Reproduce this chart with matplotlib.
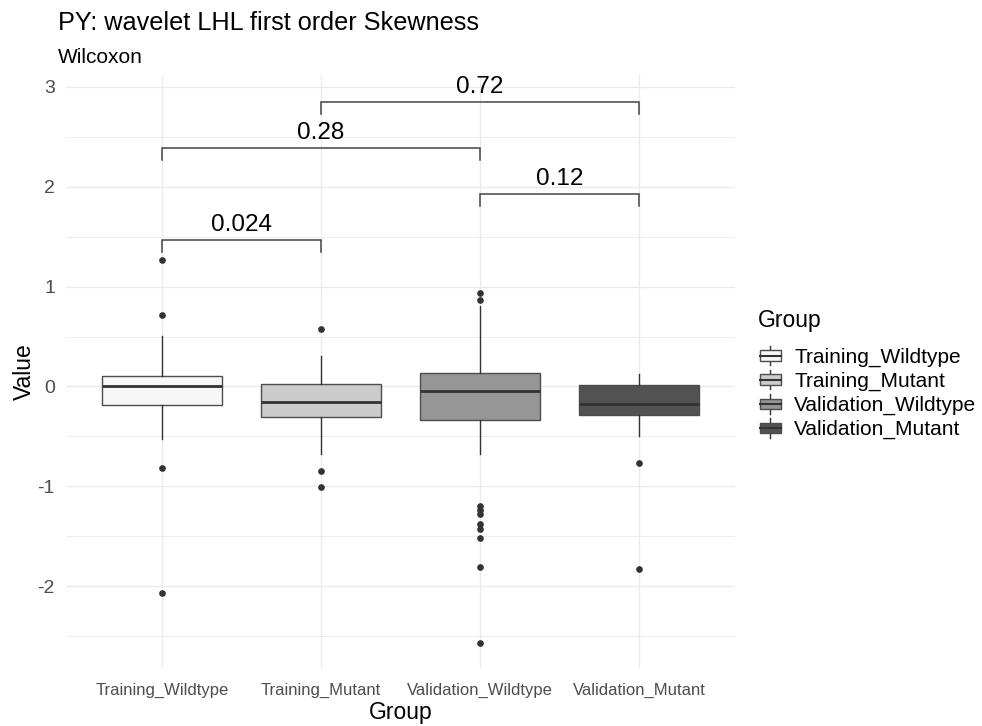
import matplotlib
matplotlib.use("Agg")
import matplotlib.pyplot as plt
from matplotlib.patches import Rectangle, Patch
from matplotlib.lines import Line2D
from matplotlib.legend_handler import HandlerBase
from matplotlib.ticker import MultipleLocator

plt.rcParams['font.family'] = ['Liberation Sans', 'DejaVu Sans']

# groups and their box summaries
groups = ['Training_Wildtype', 'Training_Mutant', 'Validation_Wildtype', 'Validation_Mutant']
fills = ['#f7f7f7', '#cccccc', '#969696', '#525252']
q1 = [-0.19, -0.31, -0.34, -0.29]
med = [0.00, -0.153, -0.05, -0.176]
q3 = [0.107, 0.024, 0.137, 0.01]
whislo = [-0.527, -0.677, -0.675, -0.494]
whishi = [0.507, 0.31, 0.81, 0.127]
outliers = [
    [1.27, 0.715, -0.82, -2.07],
    [0.571, -0.845, -1.005],
    [0.94, 0.866, -1.20, -1.235, -1.28, -1.375, -1.43, -1.52, -1.81, -2.565],
    [-0.77, -1.83],
]

# pairwise Wilcoxon comparisons: (group a, group b, bracket height, p label)
pairs = [(1, 2, 1.463, '0.024'),
         (1, 3, 2.385, '0.28'),
         (3, 4, 1.924, '0.12'),
         (2, 4, 2.846, '0.72')]

stats = []
for i in range(len(groups)):
    stats.append(dict(med=med[i], q1=q1[i], q3=q3[i], whislo=whislo[i],
                      whishi=whishi[i], fliers=outliers[i]))

fig = plt.figure(figsize=(9.82, 7.26), dpi=100)
ax = fig.add_axes([66/982, 1 - 668/726, (735 - 66)/982, (668 - 75)/726])

pos = [1, 2, 3, 4]
bp = ax.bxp(stats, positions=pos, widths=0.75, patch_artist=True, showcaps=False,
            boxprops=dict(edgecolor='#4d4d4d', linewidth=1.0),
            medianprops=dict(color='#333333', linewidth=2.0),
            whiskerprops=dict(color='#333333', linewidth=1.0),
            flierprops=dict(marker='o', markersize=3.8, markerfacecolor='#333333',
                            markeredgecolor='#333333'))
for patch, c in zip(bp['boxes'], fills):
    patch.set_facecolor(c)
    patch.set_zorder(3)
for ln in bp['medians'] + bp['whiskers'] + bp['fliers']:
    ln.set_zorder(4)

# significance brackets
tick = 0.115
for a, b, h, lab in pairs:
    ax.plot([a, a, b, b], [h - tick, h, h, h - tick], color='#444444', lw=1.1,
            solid_joinstyle='miter', zorder=5)
    ax.text((a + b) / 2, h + 0.04, lab, ha='center', va='bottom', fontsize=17.5,
            color='black', zorder=6)

ax.set_xlim(0.396, 4.604)
ax.set_ylim(-2.82, 3.12)
ax.set_xticks(pos)
ax.set_xticklabels(groups, fontsize=12, color='#4d4d4d')
ax.yaxis.set_major_locator(MultipleLocator(1))
ax.yaxis.set_minor_locator(MultipleLocator(0.5))
ax.set_yticks([-2, -1, 0, 1, 2, 3])
ax.set_yticklabels(['-2', '-1', '0', '1', '2', '3'], fontsize=14, color='#4d4d4d')
ax.tick_params(axis='both', which='both', length=0)
ax.tick_params(axis='x', pad=11)
ax.tick_params(axis='y', pad=8)
ax.grid(True, which='major', color='#ebebeb', lw=1.0, zorder=0)
ax.grid(True, which='minor', axis='y', color='#ebebeb', lw=0.6, zorder=0)
ax.set_axisbelow(True)
for s in ax.spines.values():
    s.set_visible(False)

ax.set_xlabel('Group', fontsize=16.5, labelpad=2)
ax.set_ylabel('Value', fontsize=16.5, labelpad=1)

fig.text(58/982, 1 - 30/726, 'PY: wavelet LHL first order Skewness', fontsize=18.2,
         ha='left', va='baseline')
fig.text(58/982, 1 - 63/726, 'Wilcoxon', fontsize=15, ha='left', va='baseline')


class BoxKey(HandlerBase):
    # little boxplot glyph for the legend keys
    def create_artists(self, legend, orig, xd, yd, width, height, fontsize, trans):
        cx = width / 2 - xd
        cy = height / 2 - yd
        bh = height * 0.55
        box = Rectangle((-xd, cy - bh / 2), width, bh, facecolor=orig.get_facecolor(),
                        edgecolor='#4d4d4d', lw=1.0, transform=trans)
        wu = Line2D([cx, cx], [cy + bh / 2, -yd + height], color='#333333', lw=1.0,
                    transform=trans)
        wd = Line2D([cx, cx], [-yd, cy - bh / 2], color='#333333', lw=1.0,
                    transform=trans)
        md = Line2D([-xd, -xd + width], [cy, cy], color='#333333', lw=1.5,
                    transform=trans)
        return [wu, wd, box, md]


fig.text(758/982, 1 - 327/726, 'Group', fontsize=16.5, ha='left', va='baseline')
handles = [Patch(facecolor=c) for c in fills]
leg = fig.legend(handles, groups, handler_map={Patch: BoxKey()},
                 loc='upper left', bbox_to_anchor=(760/982, 1 - 346/726),
                 frameon=False, fontsize=15,
                 handlelength=1.0, handleheight=1.05, labelspacing=0.15,
                 handletextpad=0.65, borderpad=0, borderaxespad=0)

fig.savefig('out.png', dpi=100)
